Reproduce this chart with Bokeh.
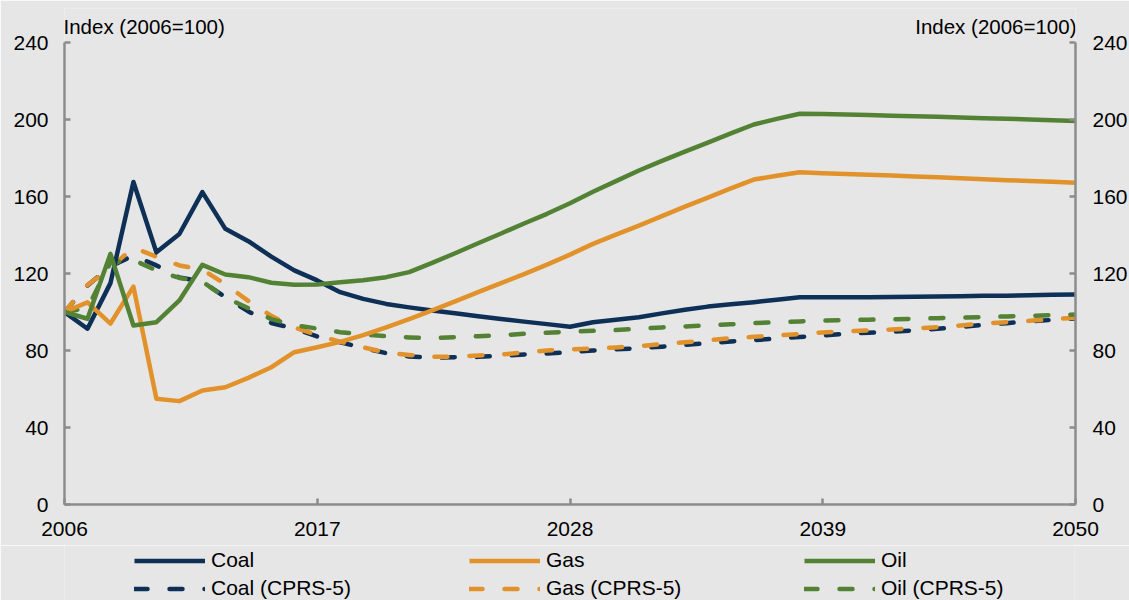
from bokeh.plotting import figure
from bokeh.models import LinearAxis, FixedTicker, Legend, LegendItem, Range1d, Label
from bokeh.layouts import column
from bokeh.embed import file_html
from bokeh.resources import INLINE

years = list(range(2006, 2051))

coal = [100, 91.3, 115, 167.5, 131, 140.5, 162.3, 143.2, 136.8, 128.8,
        121.6, 116.4, 110.3, 106.8, 104.2, 102.4, 100.8, 99.3, 97.8, 96.4,
        95.0, 93.7, 92.3, 94.7, 96.0, 97.3, 99.3, 101.2, 102.8, 104.0,
        105.1, 106.4, 107.7, 107.6, 107.6, 107.7, 107.8, 107.9, 108.0, 108.2,
        108.4, 108.5, 108.7, 108.9, 109.1]
gas = [100, 105, 94, 113.2, 54.9, 53.7, 59.2, 60.9, 65.8, 71.3,
       79.1, 81.7, 84.5, 88.0, 92.0, 96.3, 100.8, 105.5, 110.3, 115.0,
       119.7, 124.6, 129.8, 135.4, 140.2, 144.9, 149.8, 154.7, 159.4, 164.2,
       168.8, 170.8, 172.6, 172.1, 171.7, 171.3, 170.9, 170.4, 170.0, 169.5,
       169.0, 168.5, 168.0, 167.6, 167.1]
oil = [100, 96.5, 130.2, 93, 94.7, 106, 124.5, 119.5, 118.1, 115.2,
       114.1, 114.3, 115.5, 116.5, 118.1, 120.7, 125.5, 130.5, 135.7, 140.8,
       146.0, 151.0, 156.5, 162.5, 168.0, 173.5, 178.5, 183.3, 188.0, 192.8,
       197.4, 200.3, 203.0, 202.8, 202.6, 202.3, 202.0, 201.7, 201.4, 201.1,
       200.7, 200.4, 200.0, 199.6, 199.2]
coal_cprs = [100, 113.8, 123.6, 129.4, 124.2, 117.9, 115.8, 107.7, 100.3, 94.3,
             91.4, 87.3, 84.3, 81.4, 78.6, 76.9, 76.2, 76.5, 76.7, 77.2,
             77.9, 78.4, 79.1, 80.0, 80.6, 81.2, 82.0, 82.9, 83.8, 84.7,
             85.4, 86.2, 87.0, 87.8, 88.7, 89.2, 89.7, 90.5, 91.3, 92.3,
             93.3, 94.2, 95.2, 95.9, 96.6]
gas_cprs = [100, 114, 123, 133.5, 128.7, 124.2, 122, 114.5, 105.7, 98,
            92, 88, 84.5, 81.7, 78.8, 77.7, 76.8, 76.8, 77.4, 77.9,
            79.0, 80.0, 80.5, 81.0, 81.6, 82.3, 83.3, 84.3, 85.3, 86.4,
            87.1, 87.8, 88.6, 89.4, 89.9, 90.4, 90.9, 91.5, 92.1, 93.0,
            94.0, 94.7, 95.4, 96.2, 97.0]
oil_cprs = [100, 102, 125.7, 127, 121.6, 117.7, 115.8, 107.5, 102, 96.3,
            93.2, 91.4, 89.5, 88.3, 87.4, 86.8, 86.4, 86.9, 87.4, 87.9,
            88.7, 89.2, 89.8, 90.2, 90.6, 91.3, 92.0, 92.5, 93.0, 93.6,
            94.2, 94.7, 95.1, 95.6, 95.8, 96.0, 96.2, 96.5, 96.8, 97.1,
            97.4, 97.7, 98.0, 98.4, 98.7]

series_names = ["Coal", "Gas", "Oil", "Coal (CPRS-5)", "Gas (CPRS-5)", "Oil (CPRS-5)"]
x_ticks = [2006, 2017, 2028, 2039, 2050]
y_ticks = [0, 40, 80, 120, 160, 200, 240]
axis_title = "Index (2006=100)"

NAVY = "#0e3057"
ORANGE = "#e2922a"
GREEN = "#548235"
BG = "#e6e6e6"
AXIS = "#8c8c8c"
FONT = "Liberation Sans"
FS = "21px"
LW = 4.5
DASH = "13 22"

Y_MAX = 240
HEAD = 34 / (462 / Y_MAX)          # room above the 240 line for the unit labels

p = figure(width=1129, height=545, output_backend="svg", toolbar_location=None,
           x_range=Range1d(2006, 2050), y_range=Range1d(0, Y_MAX + HEAD),
           frame_width=1011, frame_height=496,
           min_border_left=64, min_border_right=54, min_border_top=8, min_border_bottom=41,
           background_fill_color=BG, border_fill_color=BG, outline_line_color=None,
           x_axis_location=None, y_axis_location=None)
p.grid.visible = False


def style_axis(ax, ticks, standoff):
    ax.ticker = FixedTicker(ticks=ticks)
    ax.axis_line_color = AXIS
    ax.axis_line_width = 2.5
    ax.major_tick_line_color = AXIS
    ax.major_tick_line_width = 2.5
    ax.major_tick_in = 6
    ax.major_tick_out = 0
    ax.minor_tick_line_color = None
    ax.major_label_text_font = FONT
    ax.major_label_text_font_size = FS
    ax.major_label_text_color = "#000000"
    ax.major_label_standoff = standoff


xa = LinearAxis()
style_axis(xa, x_ticks, 17)
p.add_layout(xa, "below")
ya = LinearAxis(bounds=(0, Y_MAX))
style_axis(ya, y_ticks, 16)
p.add_layout(ya, "left")
yr = LinearAxis(bounds=(0, Y_MAX))
style_axis(yr, y_ticks, 17)
p.add_layout(yr, "right")

styles = [dict(line_color=NAVY), dict(line_color=ORANGE), dict(line_color=GREEN),
          dict(line_color=NAVY, line_dash=DASH, line_cap="round"),
          dict(line_color=ORANGE, line_dash=DASH, line_cap="round"),
          dict(line_color=GREEN, line_dash=DASH, line_cap="round")]
data = [coal, gas, oil, coal_cprs, gas_cprs, oil_cprs]

# dashed scenarios underneath, solid lines on top
for i in (3, 4, 5, 0, 1, 2):
    p.line(years, data[i], line_width=LW, line_join="round", **styles[i])

lab_y = Y_MAX + 16 / (462 / Y_MAX)
p.add_layout(Label(x=2006, y=lab_y, x_offset=-1, text=axis_title, text_align="left",
                   text_baseline="middle", text_font=FONT, text_font_size="20.5px",
                   text_color="#000000"))
p.add_layout(Label(x=2050, y=lab_y, x_offset=1, text=axis_title, text_align="right",
                   text_baseline="middle", text_font=FONT, text_font_size="20.5px",
                   text_color="#000000"))

# legend strip below the chart; its series renderers lie outside its (unit) ranges
leg = figure(width=1129, height=55, output_backend="svg", toolbar_location=None,
             x_range=Range1d(0, 1), y_range=Range1d(0, 1),
             min_border_left=0, min_border_right=0, min_border_top=0, min_border_bottom=0,
             background_fill_color=BG, border_fill_color=BG, outline_line_color=None,
             x_axis_location=None, y_axis_location=None)
leg.grid.visible = False
leg_r = [leg.line(years, data[i], line_width=LW, **styles[i]) for i in range(6)]


def add_legend_row(idx, y):
    lg = Legend(items=[LegendItem(label=series_names[i], renderers=[leg_r[i]]) for i in idx],
                orientation="horizontal", location=(70, y),
                glyph_width=71, glyph_height=21, label_height=21, label_width=250,
                label_standoff=6, spacing=8, padding=0, margin=0,
                label_text_font=FONT, label_text_font_size=FS, label_text_color="#000000",
                border_line_color=None, background_fill_alpha=0)
    leg.add_layout(lg, "center")


add_legend_row([0, 1, 2], 28)
add_legend_row([3, 4, 5], 0)

layout = column(p, leg, spacing=0)
open("out.html", "w").write(file_html(layout, INLINE))
